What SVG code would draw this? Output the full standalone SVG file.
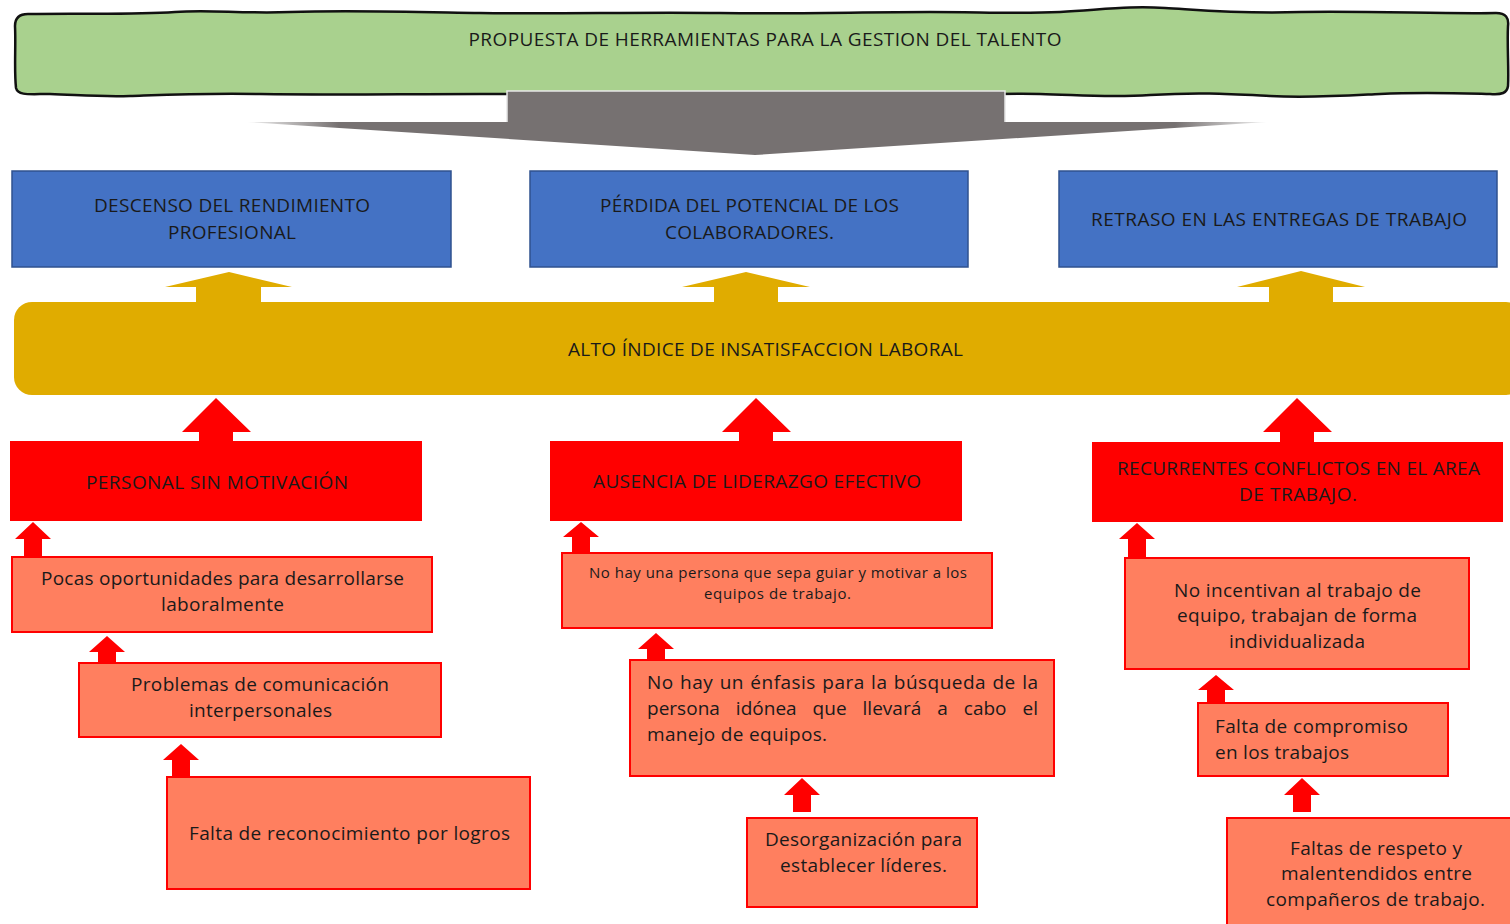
<svg xmlns="http://www.w3.org/2000/svg" width="1510" height="924" viewBox="0 0 1510 924">
<style>
  text { font-family: "Open Sans", "Noto Sans", "Liberation Sans", sans-serif; fill: #1a1a1a; }
  .t18 { font-size: 19px; }
  .t14 { font-size: 15px; }
  .c { text-anchor: middle; }
  .blue { fill: #4472c4; stroke: #2f528f; stroke-width: 1.5; }
  .red { fill: #ff0000; }
  .sal { fill: #ff7f5f; stroke: #ff0000; stroke-width: 2; }
  .yel { fill: #e0ac00; }
  .arr { fill: #ff0000; }
</style>
<defs>
  <linearGradient id="gfade" x1="247" y1="0" x2="1267" y2="0" gradientUnits="userSpaceOnUse">
    <stop offset="0" stop-color="#f2f2f2"/>
    <stop offset="0.09" stop-color="#767171"/>
    <stop offset="0.91" stop-color="#767171"/>
    <stop offset="1" stop-color="#f2f2f2"/>
  </linearGradient>
</defs>

<g id="banner">
  <path d="M 28,14 C 80,13 130,15 175,12 C 210,9 240,14 290,12 C 350,10 420,12 480,13 C 560,14 640,12 720,13 C 800,14 860,12 930,12 C 980,12 1020,14 1060,12 C 1110,9 1130,6 1165,8 C 1200,10 1240,14 1300,12 C 1380,11 1440,14 1496,13 C 1506,13 1509,18 1508,26 C 1507,45 1509,70 1508,86 C 1507,93 1502,95 1490,94 C 1450,93 1420,92 1380,94 C 1340,96 1310,98 1270,96 C 1230,94 1200,92 1150,95 C 1110,98 1080,95 1040,94 C 990,93 960,96 900,95 C 840,94 780,93 720,94 C 640,95 560,94 480,94 C 400,94 330,95 260,94 C 200,93 160,95 130,96 C 100,97 80,95 50,94 C 30,94 18,96 16,88 C 14,70 16,45 15,26 C 15,17 20,14 28,14 Z" fill="#a9d18e" stroke="#111" stroke-width="2.5"/>
  <text class="t18 c" x="765" y="46" textLength="593" lengthAdjust="spacing">PROPUESTA DE HERRAMIENTAS PARA LA GESTION DEL TALENTO</text>
</g>

<g id="connectors">
  <polygon points="507,91 1005,91 1005,122 1267,122 755,155 247,122 507,122" fill="url(#gfade)"/>
  <polyline points="507,122 507,91 1005,91 1005,122" fill="none" stroke="#e6e6e6" stroke-width="1.5"/>
  <polygon class="yel" points="229,272 292,287 261,287 261,304 196,304 196,287 165,287"/>
  <polygon class="yel" points="746,272 810,287 778,287 778,304 714,304 714,287 682,287"/>
  <polygon class="yel" points="1301,271 1365,287 1333,287 1333,304 1269,304 1269,287 1237,287"/>
  <polygon class="arr" points="216,398 251,432 233,432 233,442 199,442 199,432 182,432"/>
  <polygon class="arr" points="756,398 791,432 773,432 773,442 739,442 739,432 722,432"/>
  <polygon class="arr" points="1297,398 1332,432 1314,432 1314,443 1280,443 1280,432 1263,432"/>
  <polygon class="arr" points="33,522 51,539 42,539 42,558 24,558 24,539 15,539"/>
  <polygon class="arr" points="107,636 125,652 116,652 116,664 98,664 98,652 89,652"/>
  <polygon class="arr" points="181,744 199,760 190,760 190,778 172,778 172,760 163,760"/>
  <polygon class="arr" points="581,522 599,537 590,537 590,554 572,554 572,537 563,537"/>
  <polygon class="arr" points="656,633 674,649 665,649 665,661 647,661 647,649 638,649"/>
  <polygon class="arr" points="802,778 820,795 811,795 811,812 793,812 793,795 784,795"/>
  <polygon class="arr" points="1137,523 1155,539 1146,539 1146,559 1128,559 1128,539 1119,539"/>
  <polygon class="arr" points="1216,675 1234,690 1225,690 1225,704 1207,704 1207,690 1198,690"/>
  <polygon class="arr" points="1302,778 1320,795 1311,795 1311,812 1293,812 1293,795 1284,795"/>
</g>

<g id="blue1">
  <rect class="blue" x="12" y="171" width="439" height="96"/>
  <text class="t18 c" x="232" y="211.5" textLength="276" lengthAdjust="spacing">DESCENSO DEL RENDIMIENTO</text>
  <text class="t18 c" x="232" y="238.5" textLength="128" lengthAdjust="spacing">PROFESIONAL</text>
</g>
<g id="blue2">
  <rect class="blue" x="530" y="171" width="438" height="96"/>
  <text class="t18 c" x="749.5" y="211.5" textLength="299" lengthAdjust="spacing">PÉRDIDA DEL POTENCIAL DE LOS</text>
  <text class="t18 c" x="749.5" y="238.5" textLength="169" lengthAdjust="spacing">COLABORADORES.</text>
</g>
<g id="blue3">
  <rect class="blue" x="1059" y="171" width="438" height="96"/>
  <text class="t18 c" x="1279" y="225.5" textLength="376" lengthAdjust="spacing">RETRASO EN LAS ENTREGAS DE TRABAJO</text>
</g>

<g id="yellow">
  <rect class="yel" x="14" y="302" width="1510" height="93" rx="18"/>
  <text class="t18 c" x="765.5" y="355.5" textLength="395" lengthAdjust="spacing">ALTO ÍNDICE DE INSATISFACCION LABORAL</text>
</g>

<g id="red1">
  <rect class="red" x="10" y="441" width="412" height="80"/>
  <text class="t18 c" x="217" y="488.5" textLength="262" lengthAdjust="spacing">PERSONAL SIN MOTIVACIÓN</text>
</g>
<g id="red2">
  <rect class="red" x="550" y="441" width="412" height="80"/>
  <text class="t18 c" x="757" y="487.5" textLength="328" lengthAdjust="spacing">AUSENCIA DE LIDERAZGO EFECTIVO</text>
</g>
<g id="red3">
  <rect class="red" x="1092" y="442" width="411" height="80"/>
  <text class="t18 c" x="1298.5" y="474.5" textLength="363" lengthAdjust="spacing">RECURRENTES CONFLICTOS EN EL AREA</text>
  <text class="t18 c" x="1298" y="500.5" textLength="118" lengthAdjust="spacing">DE TRABAJO.</text>
</g>

<g id="c1a">
  <rect class="sal" x="12" y="557" width="420" height="75"/>
  <text class="t18 c" x="222.5" y="584.5" textLength="363" lengthAdjust="spacing">Pocas oportunidades para desarrollarse</text>
  <text class="t18 c" x="222.5" y="610.5" textLength="123" lengthAdjust="spacing">laboralmente</text>
</g>
<g id="c1b">
  <rect class="sal" x="79" y="663" width="362" height="74"/>
  <text class="t18 c" x="260" y="690.5" textLength="258" lengthAdjust="spacing">Problemas de comunicación</text>
  <text class="t18 c" x="260.5" y="716.5" textLength="143" lengthAdjust="spacing">interpersonales</text>
</g>
<g id="c1c">
  <rect class="sal" x="167" y="777" width="363" height="112"/>
  <text class="t18 c" x="349.5" y="839.5" textLength="321" lengthAdjust="spacing">Falta de reconocimiento por logros</text>
</g>

<g id="c2a">
  <rect class="sal" x="562" y="553" width="430" height="75"/>
  <text class="t14 c" x="778" y="578" textLength="378" lengthAdjust="spacing">No hay una persona que sepa guiar y motivar a los</text>
  <text class="t14 c" x="777.5" y="599" textLength="147" lengthAdjust="spacing">equipos de trabajo.</text>
</g>
<g id="c2b">
  <rect class="sal" x="630" y="660" width="424" height="116"/>
  <text class="t18" x="647" y="688.5" word-spacing="1" textLength="391" lengthAdjust="spacing">No hay un énfasis para la búsqueda de la</text>
  <text class="t18" x="647" y="714.5" word-spacing="11" textLength="391" lengthAdjust="spacing">persona idónea que llevará a cabo el</text>
  <text class="t18" x="647" y="740.5" textLength="180" lengthAdjust="spacing">manejo de equipos.</text>
</g>
<g id="c2c">
  <rect class="sal" x="747" y="818" width="230" height="89"/>
  <text class="t18 c" x="863.5" y="845.5" textLength="197" lengthAdjust="spacing">Desorganización para</text>
  <text class="t18 c" x="863.5" y="871.5" textLength="167" lengthAdjust="spacing">establecer líderes.</text>
</g>

<g id="c3a">
  <rect class="sal" x="1125" y="558" width="344" height="111"/>
  <text class="t18 c" x="1297.5" y="596.5" textLength="247" lengthAdjust="spacing">No incentivan al trabajo de</text>
  <text class="t18 c" x="1297" y="621.5" textLength="240" lengthAdjust="spacing">equipo, trabajan de forma</text>
  <text class="t18 c" x="1297" y="647.5" textLength="136" lengthAdjust="spacing">individualizada</text>
</g>
<g id="c3b">
  <rect class="sal" x="1198" y="703" width="250" height="73"/>
  <text class="t18" x="1215" y="732.5" textLength="193" lengthAdjust="spacing">Falta de compromiso</text>
  <text class="t18" x="1215" y="758.5" textLength="134" lengthAdjust="spacing">en los trabajos</text>
</g>
<g id="c3c">
  <rect class="sal" x="1227" y="818" width="300" height="120"/>
  <text class="t18 c" x="1376" y="854.5" textLength="172" lengthAdjust="spacing">Faltas de respeto y</text>
  <text class="t18 c" x="1376.5" y="879.5" textLength="191" lengthAdjust="spacing">malentendidos entre</text>
  <text class="t18 c" x="1375.5" y="905.5" textLength="219" lengthAdjust="spacing">compañeros de trabajo.</text>
</g>
</svg>
